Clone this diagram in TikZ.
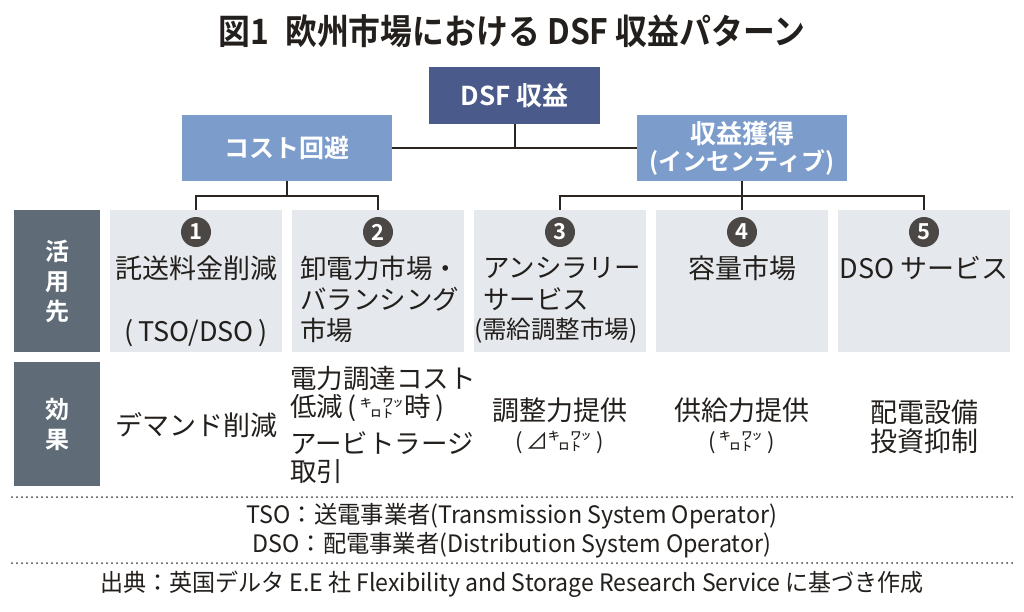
\documentclass[tikz,border=0pt]{standalone}
\usepackage{fontspec}
\setmainfont{Noto Sans CJK JP}[BoldFont={Noto Sans CJK JP Bold}]
\definecolor{dsfblue}{RGB}{74,90,138}
\definecolor{lightblue}{RGB}{124,156,203}
\definecolor{graybox}{RGB}{229,233,237}
\definecolor{labelgray}{RGB}{95,108,120}
\definecolor{numgray}{RGB}{75,71,68}
\definecolor{ink}{RGB}{35,31,28}
\definecolor{linec}{RGB}{43,38,34}
\definecolor{dotc}{RGB}{70,66,62}
\tikzset{
  txt/.style={inner sep=0pt, text=ink, font=\fontsize{27}{30}\selectfont},
  ltxt/.style={inner sep=0pt, text=ink, anchor=west, font=\fontsize{26.5}{30}\selectfont},
  small/.style={inner sep=0pt, text=ink, font=\fontsize{22}{26}\selectfont},
  note/.style={inner sep=0pt, text=ink, font=\fontsize{24}{28}\selectfont},
  gbox/.style={fill=graybox, minimum width=172pt, minimum height=142pt, inner sep=0pt},
  lbl/.style={fill=labelgray, minimum width=86pt, text=white, align=center, inner sep=0pt,
    font=\bfseries\fontsize{24}{30}\selectfont},
  topbox/.style={minimum width=210pt, minimum height=66pt, inner sep=0pt, text=white, align=center},
  num/.style={circle, fill=numgray, minimum size=30pt, inner sep=0pt, text=white,
    font=\bfseries\fontsize{22}{22}\selectfont},
  conn/.style={draw=linec, line width=2pt},
  dots/.style={draw=dotc, line width=2pt, dash pattern=on 0pt off 5pt, line cap=round},
}
\begin{document}
\begin{tikzpicture}[x=1pt,y=-1pt]
\useasboundingbox (0,0) rectangle (1024,611);
\fill[white] (0,0) rectangle (1024,611);

% title
\node[inner sep=0pt, text=ink, font=\bfseries\fontsize{35}{38}\selectfont] (title) at (512,31)
  {\scalebox{0.91}[1]{図1\hspace{0.5em}欧州市場における DSF 収益パターン}};

% top boxes
\node[fill=dsfblue, minimum width=171pt, minimum height=57pt, inner sep=0pt, text=white,
  font=\bfseries\fontsize{26}{30}\selectfont] (dsf) at (514.5,95.5) {DSF 収益};
\node[topbox, fill=lightblue, font=\bfseries\fontsize{25}{30}\selectfont] (cost) at (287,148) {コスト回避};
\node[topbox, fill=lightblue, font=\bfseries\fontsize{26}{29}\selectfont] (rev) at (742,148)
  {収益獲得\\[-2pt]{\fontsize{24}{28}\selectfont (インセンティブ)}};

% row boxes
\node[lbl, minimum height=142pt] (lab1) at (57,281) {活\\用\\先};
\node[lbl, minimum height=124pt] (lab2) at (57,424) {効\\果};
\node[gbox] (b1) at (196,281) {};
\node[gbox] (b2) at (378,281) {};
\node[gbox] (b3) at (560,281) {};
\node[gbox] (b4) at (742,281) {};
\node[gbox] (b5) at (924,281) {};

% connectors
\coordinate (busL) at (287,196);
\coordinate (busR) at (742,196);
\draw[conn] (cost.east) -- (rev.west);
\draw[conn] (dsf.south) -- (dsf.south |- cost.east);
\draw[conn] (cost.south) -- (busL);
\draw[conn] (b1.north) |- (busL) -| (b2.north);
\draw[conn] (rev.south) -- (busR);
\draw[conn] (b3.north) |- (busR) -| (b5.north);
\draw[conn] (busR) -- (b4.north);

% numbers
\node[num] (n1) at (196,232) {1};
\node[num] (n2) at (378,232) {2};
\node[num] (n3) at (560,232) {3};
\node[num] (n4) at (742,232) {4};
\node[num] (n5) at (924,232) {5};

% row 1 texts
\node[txt] (t1a) at (196,268) {託送料金削減};
\node[txt] (t1b) at (196,333) {(\,TSO/DSO\,)};
\node[ltxt] (t2a) at (300,268) {卸電力市場・};
\node[ltxt] (t2b) at (300,299) {バランシング};
\node[ltxt] (t2c) at (300,330) {市場};
\node[ltxt] (t3a) at (483,268) {アンシラリー};
\node[ltxt] (t3b) at (483,299) {サービス};
\node[ltxt, font=\fontsize{24.5}{28}\selectfont] (t3c) at (474,331) {(需給調整市場)};
\node[txt] (t4a) at (742,268) {容量市場};
\node[txt] (t5a) at (924,268) {DSO サービス};

% row 2 texts
\node[txt] (e1) at (196,425) {デマンド削減};
\node[ltxt] (e2a) at (290,378) {電力調達コスト};
\node[ltxt] (e2b) at (290,408) {低減\,(\,{\fontsize{22}{26}\selectfont ㌔㍗}時\,)};
\node[ltxt] (e2c) at (290,443) {アービトラージ};
\node[ltxt] (e2d) at (290,472) {取引};
\node[txt] (e3a) at (560,410) {調整力提供};
\node[small] (e3b) at (560,442) {(\,⊿㌔㍗\,)};
\node[txt] (e4a) at (742,410) {供給力提供};
\node[small] (e4b) at (742,442) {(\,㌔㍗\,)};
\node[txt] (e5a) at (924,412) {配電設備};
\node[txt] (e5b) at (924,441) {投資抑制};

% dotted rules
\coordinate (d1a) at (12,497);
\coordinate (d1b) at (1012,497);
\coordinate (d2a) at (12,563);
\coordinate (d2b) at (1012,563);
\draw[dots] (d1a) -- (d1b);
\draw[dots] (d2a) -- (d2b);

% notes
\node[note] (f1) at (512,516) {\scalebox{0.97}[1]{TSO：送電事業者(Transmission System Operator)}};
\node[note] (f2) at (512,545) {\scalebox{0.97}[1]{DSO：配電事業者(Distribution System Operator)}};
\node[note] (src) at (512,584) {\scalebox{0.96}[1]{出典：英国デルタ E.E 社 Flexibility and Storage Research Service に基づき作成}};
\end{tikzpicture}
\end{document}
